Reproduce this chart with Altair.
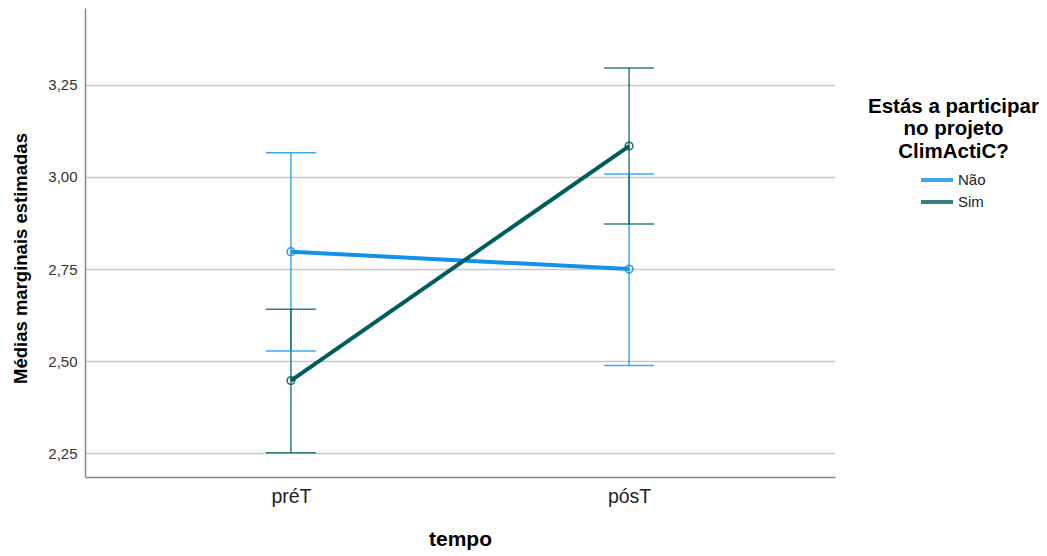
import altair as alt
import pandas as pd

tempo = ["préT", "pósT", "préT", "pósT"]
grupo = ["Não", "Não", "Sim", "Sim"]
media = [2.797, 2.750, 2.447, 3.084]
inferior = [2.527, 2.488, 2.251, 2.872]
superior = [3.066, 3.008, 2.641, 3.296]
ordem = [0, 1, 0, 1]
legend_title = ["Estás a participar", "no projeto", "ClimActiC?"]

df = pd.DataFrame({"tempo": tempo, "grupo": grupo, "media": media,
                   "inferior": inferior, "superior": superior, "ordem": ordem})

colors = ["#1192E8", "#005D5D"]
color_scale = alt.Scale(domain=["Não", "Sim"], range=colors)

legend = alt.Legend(
    title=None,
    orient="none", legendX=834, legendY=161,
    labelFontSize=15, labelFont="Liberation Sans", labelColor="#222",
    labelOffset=3, symbolType="stroke", symbolSize=1024,
    symbolStrokeWidth=4, symbolOffset=0, rowPadding=0, clipHeight=22, padding=0)

color = alt.Color("grupo:N", scale=color_scale, legend=legend)

x = alt.X("tempo:N", sort=["préT", "pósT"],
          scale=alt.Scale(type="point", padding=0.609),
          axis=alt.Axis(title="tempo", labelAngle=0, ticks=False, grid=False,
                        labelFontSize=19.5, labelFont="Liberation Sans", labelColor="#222",
                        labelPadding=10, titleFontSize=21, titleFont="Liberation Sans",
                        titleFontWeight="bold", titleColor="#000", titlePadding=23,
                        domainColor="#888", domainWidth=1.5))

yscale = alt.Scale(domain=[2.185, 3.459], nice=False, zero=False)
yaxis = alt.Axis(title="Médias marginais estimadas", values=[2.25, 2.5, 2.75, 3.0, 3.25],
                 labelExpr="replace(format(datum.value, '.2f'), '.', ',')",
                 ticks=False, grid=True, gridColor="#c8c8c8", gridWidth=1.5,
                 labelFontSize=15, labelFont="Liberation Sans", labelColor="#333",
                 labelPadding=8, titleFontSize=18.5, titleFont="Liberation Sans",
                 titleFontWeight="bold", titleColor="#000", titlePadding=17,
                 titleY=250,
                 domainColor="#888", domainWidth=1.5)

base = alt.Chart(df)

rules = base.mark_rule(strokeWidth=1.5, opacity=0.8).encode(
    x=x,
    y=alt.Y("inferior:Q", scale=yscale, axis=yaxis),
    y2="superior:Q",
    color=color,
)
cap_hi = base.mark_tick(orient="horizontal", size=50, thickness=1.5, opacity=0.8).encode(
    x=x, y=alt.Y("superior:Q", scale=yscale), color=color,
)
cap_lo = base.mark_tick(orient="horizontal", size=50, thickness=1.5, opacity=0.8).encode(
    x=x, y=alt.Y("inferior:Q", scale=yscale), color=color,
)
lines = base.mark_line(strokeWidth=4).encode(
    x=x, y=alt.Y("media:Q", scale=yscale), color=color, order="ordem:Q",
)
points = base.mark_point(filled=False, size=60, strokeWidth=1.5, opacity=0.9).encode(
    x=x, y=alt.Y("media:Q", scale=yscale), color=color,
)

title_text = alt.Chart(pd.DataFrame({"k": [0]})).mark_text(
    text=legend_title, align="center", baseline="top", lineHeight=22.5,
    fontSize=20.5, font="Liberation Sans", fontWeight="bold", color="#000",
).encode(x=alt.value(868.5), y=alt.value(88.5))

chart = alt.layer(rules, cap_hi, cap_lo, lines, points, title_text).properties(
    width=750, height=469,
    background="white",
    autosize=alt.AutoSizeParams(type="none"),
    padding={"left": 77, "top": 0, "right": 204, "bottom": 79},
).configure_view(stroke="transparent", strokeWidth=0)

chart.save("out.html", embed_options={"renderer": "svg", "actions": False})
